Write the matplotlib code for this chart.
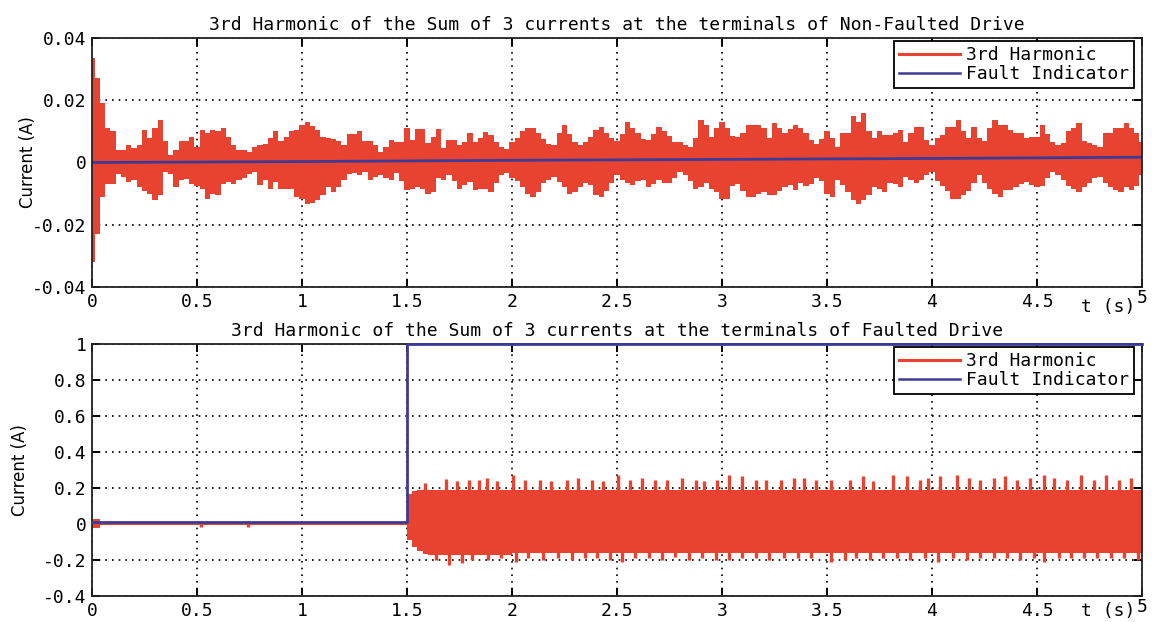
import numpy as np
import matplotlib
matplotlib.use("Agg")
import matplotlib.pyplot as plt
from matplotlib.lines import Line2D
from matplotlib.transforms import ScaledTranslation

plt.rcParams["font.family"] = ["DejaVu Sans Mono"]

RED = "#e84330"
BLUE = "#3e3a96"

# ---------------- Non-faulted drive ----------------
# envelope of the 3rd-harmonic band, one sample every 25 ms from 0 to 5 s (mA)
nf_t = np.round(np.arange(0, 5.0001, 0.025), 3)
nf_upper_mA = [
    33.6, 27, 19, 11, 10, 4, 4, 5.6, 4.5, 5.6,
    10.6, 8, 11, 13.7, 7, 2.4, 4, 7, 7, 8.3,
    5, 10.6, 9.5, 10.6, 10, 11, 8.3, 5.6, 4, 4,
    3.4, 5, 5.6, 6, 8, 10, 6.8, 8.3, 10, 10.6,
    12, 13, 11.6, 10.6, 8.3, 8, 7.5, 7, 5.6, 9,
    9, 10, 7, 7, 5.6, 3.5, 5, 7.3, 6.7, 6.7,
    11, 7.3, 10.7, 10.7, 6.2, 8.3, 10.7, 4.5, 7.3, 7.3,
    5.6, 6.7, 9.4, 6.7, 8, 9.9, 8.8, 6.7, 5, 4.2,
    6.5, 7.8, 10, 11, 11, 9.5, 7.5, 6, 5.5, 9.5,
    12, 9, 6.5, 5.6, 6.7, 8.3, 10.5, 11.5, 9.4, 7.8,
    7, 9, 13, 11, 9.4, 7.5, 7.3, 9, 11.5, 10,
    8.5, 6.7, 6.5, 5.5, 5, 8, 13.7, 12, 8.3, 11,
    13, 11, 8.5, 8.3, 9.5, 12, 12, 12, 11, 7.8,
    12.6, 11, 9.4, 10.7, 12, 11, 9.4, 7.3, 6, 7.5,
    10, 8, 5, 9.4, 9.4, 14.8, 13, 15.9, 10, 7.8,
    10, 8.9, 8.9, 9.5, 10.5, 6.7, 9.5, 11.5, 11.5, 7.3,
    5.6, 8, 8.9, 11.5, 11.5, 13.7, 10, 8, 11.5, 8,
    7, 11, 13.7, 12, 12, 10.5, 9.4, 9.4, 7.8, 8.3,
    8.3, 12, 9, 6.5, 5.6, 6.2, 10, 11, 12.6, 7,
    6.4, 5.5, 5, 9.4, 9.4, 11, 11, 12.6, 11, 9.4,
    6.5,
]
nf_lower_mA = [
    -32, -23, -11, -6.8, -6.8, -3.6, -4.6, -6.2, -5.7, -7.9,
    -9, -10, -12.2, -10.5, -3, -3.6, -7.9, -5.7, -5.2, -6.8,
    -7.5, -8.4, -11.6, -10, -10.5, -6.8, -6.2, -6.8, -5.7, -5,
    -3.6, -3, -7.3, -5.7, -8.4, -6.2, -8.4, -8.4, -8.4, -11,
    -11.6, -13.2, -13, -12.2, -10.5, -7.9, -9.5, -8, -5.7, -3.6,
    -3.5, -4, -3, -5.6, -4.5, -4, -5, -5.6, -3.5, -6,
    -8.9, -8.4, -7.8, -8.5, -10, -9.5, -5, -5.6, -4, -6,
    -8.4, -7.3, -6.2, -8.9, -8.6, -8.4, -9.5, -6.7, -4, -3.5,
    -5, -6, -8, -10, -11, -9.5, -6.5, -5.5, -4.5, -6.2,
    -7.8, -10, -9.5, -8, -6.7, -7.3, -10.5, -11, -9, -6.7,
    -4, -5.5, -6.7, -7.3, -6, -5.5, -7.8, -7, -5.6, -6.7,
    -6.5, -5, -3, -4, -6, -8.4, -7.8, -6.5, -8.5, -9.5,
    -11.6, -11.6, -7.5, -7, -9, -11, -11, -10, -9.4, -10.5,
    -10.5, -9, -8, -7.3, -8.9, -6.5, -7.5, -7, -5, -6,
    -10, -11, -5.6, -7.3, -9.4, -12, -13.2, -12, -10.5, -7.8,
    -8.4, -9.4, -6.5, -7, -7.8, -4.5, -5.5, -6.5, -5.5, -4,
    -3, -6, -7.5, -9, -11.6, -11.6, -10.5, -9, -6.5, -4,
    -6.5, -8.5, -10, -11, -8.9, -8.9, -8, -7, -6.2, -7.3,
    -7.8, -7.5, -5, -3, -4, -5.5, -7.5, -8.5, -9.4, -8,
    -6.5, -5, -4.5, -6.5, -8, -8.8, -9.4, -8, -8.9, -7.5,
    -4,
]
nf_fault_t = [0, 1, 2, 3, 4, 5]
nf_fault = [0.0, 0.0003, 0.0007, 0.001, 0.0013, 0.0017]

# ---------------- Faulted drive ----------------
# base envelope of the band (A), held constant after each breakpoint
f_band_t = [0.0, 0.04, 1.5, 1.525, 1.55, 1.575, 1.6, 2.0, 5.0]
f_band_up = [0.03, 0.006, 0.165, 0.185, 0.19, 0.19, 0.19, 0.19, 0.19]
f_band_low = [-0.022, -0.008, -0.09, -0.125, -0.15, -0.165, -0.17, -0.16, -0.16]

# individual peaks standing out of the band (A)
f_peak_up_t = [
    0.073, 0.16, 0.25, 0.384, 0.74, 0.94, 1.325,
    1.588, 1.684, 1.740, 1.796, 1.843, 1.882, 1.930, 2.005, 2.061, 2.132,
    2.188, 2.260, 2.316, 2.379, 2.435, 2.507, 2.563, 2.619, 2.682, 2.738,
    2.810, 2.874, 2.914, 2.977, 3.033, 3.097, 3.161, 3.209, 3.280, 3.344,
    3.392, 3.448, 3.520, 3.608, 3.671, 3.719, 3.815, 3.879, 3.943, 3.983,
    4.038, 4.118, 4.174, 4.230, 4.294, 4.349, 4.405, 4.469, 4.533, 4.580,
    4.644, 4.708, 4.772, 4.828, 4.892, 4.947,
]
f_peak_up = [
    0.015, 0.012, 0.012, 0.013, 0.016, 0.013, 0.013,
    0.227, 0.250, 0.238, 0.247, 0.247, 0.256, 0.238, 0.272, 0.247, 0.247,
    0.238, 0.247, 0.256, 0.247, 0.238, 0.272, 0.247, 0.256, 0.247, 0.247,
    0.256, 0.247, 0.238, 0.247, 0.272, 0.264, 0.247, 0.247, 0.247, 0.256,
    0.256, 0.247, 0.247, 0.247, 0.264, 0.238, 0.272, 0.264, 0.247, 0.256,
    0.264, 0.272, 0.256, 0.247, 0.256, 0.264, 0.247, 0.256, 0.272, 0.256,
    0.247, 0.272, 0.247, 0.272, 0.247, 0.256,
]
f_peak_low_t = [
    0.52, 0.745,
    1.64, 1.70, 1.76, 1.81, 1.885, 1.949, 2.021, 2.077, 2.148, 2.220,
    2.284, 2.347, 2.403, 2.467, 2.523, 2.587, 2.651, 2.714, 2.778, 2.842,
    2.906, 2.970, 3.033, 3.097, 3.161, 3.225, 3.297, 3.360, 3.424, 3.520,
    3.584, 3.640, 3.703, 3.767, 3.831, 3.895, 3.967, 4.030, 4.102, 4.166,
    4.230, 4.294, 4.357, 4.421, 4.485, 4.533, 4.605, 4.660, 4.724, 4.788,
    4.852, 4.915, 4.979,
]
f_peak_low = [
    -0.015, -0.014,
    -0.200, -0.225, -0.215, -0.200, -0.200, -0.190, -0.209, -0.190, -0.200, -0.190,
    -0.200, -0.190, -0.190, -0.200, -0.209, -0.190, -0.190, -0.200, -0.181, -0.200,
    -0.190, -0.200, -0.200, -0.190, -0.190, -0.200, -0.190, -0.190, -0.190, -0.209,
    -0.200, -0.190, -0.200, -0.190, -0.190, -0.200, -0.190, -0.209, -0.190, -0.200,
    -0.190, -0.190, -0.190, -0.200, -0.190, -0.209, -0.190, -0.190, -0.190, -0.190,
    -0.190, -0.190, -0.200,
]
f_fault_t = [0.0, 1.5, 5.0]
f_fault = [0.01, 1.0, 1.0]

x_ticks = [0, 0.5, 1, 1.5, 2, 2.5, 3, 3.5, 4, 4.5, 5]
x_labels = ["0", "0.5", "1", "1.5", "2", "2.5", "3", "3.5", "4", "4.5", "5"]
top_yticks = [-0.04, -0.02, 0, 0.02, 0.04]
top_ylabels = ["-0.04", "-0.02", "0", "0.02", "0.04"]
bot_yticks = [-0.4, -0.2, 0, 0.2, 0.4, 0.6, 0.8, 1.0]
bot_ylabels = ["-0.4", "-0.2", "0", "0.2", "0.4", "0.6", "0.8", "1"]

fig = plt.figure(figsize=(11.55, 6.22), dpi=100)
fig.patch.set_facecolor("white")
ax1 = fig.add_axes([0.07965, 0.53859, 0.90909, 0.40032])
ax2 = fig.add_axes([0.07965, 0.04180, 0.90909, 0.40514])


def style_axes(ax, yticks, ylabels, title, ylabel_x, unit_dy):
    ax.set_xlim(0, 5)
    ax.set_ylim(yticks[0], yticks[-1])
    ax.set_xticks(x_ticks)
    ax.set_xticklabels(x_labels)
    ax.set_yticks(yticks)
    ax.set_yticklabels(ylabels)
    ax.grid(True, color="black", linestyle=(0, (1, 3)), linewidth=1.2)
    ax.set_axisbelow(True)
    ax.tick_params(direction="in", length=6, width=1.4, top=True, right=True,
                   labelsize=13, pad=4, colors="black")
    for s in ax.spines.values():
        s.set_linewidth(1.3)
        s.set_color("#222222")
        s.set_zorder(5)
    ax.set_title(title, fontsize=13, pad=6)
    ax.set_ylabel("Current (A)", fontsize=12, family=["DejaVu Sans"])
    ax.yaxis.set_label_coords(ylabel_x, 0.5)
    # last tick label sits slightly higher, with the time unit beside it
    lbl = ax.get_xticklabels()[-1]
    lbl.set_transform(lbl.get_transform() + ScaledTranslation(0, 2.5 / 72, fig.dpi_scale_trans))
    ax.annotate("t (s)", xy=(1, 0), xycoords="axes fraction", xytext=(-24, unit_dy),
                textcoords="offset points", ha="center", va="center", fontsize=13)
    handles = [Line2D([], [], color=RED, lw=2.2), Line2D([], [], color=BLUE, lw=1.8)]
    leg = ax.legend(handles, ["3rd Harmonic", "Fault Indicator"], loc="upper right",
                    bbox_to_anchor=(0.9924, 0.988), borderaxespad=0, fontsize=13,
                    handlelength=3.4, handletextpad=0.3, borderpad=0.28,
                    labelspacing=0.05, fancybox=False, framealpha=1, edgecolor="black")
    leg.get_frame().set_linewidth(1.3)
    leg.set_zorder(10)


# top panel
ax1.fill_between(nf_t, np.array(nf_lower_mA) / 1000, np.array(nf_upper_mA) / 1000,
                 step="mid", color=RED, linewidth=0, zorder=2)
ax1.plot(nf_fault_t, nf_fault, color=BLUE, lw=2.0, zorder=3)
style_axes(ax1, top_yticks, top_ylabels,
           "3rd Harmonic of the Sum of 3 currents at the terminals of Non-Faulted Drive",
           -0.0524, -14.5)

# bottom panel
ax2.fill_between(f_band_t, f_band_low, f_band_up, step="post", color=RED, linewidth=0, zorder=2)
ax2.vlines(f_peak_up_t, 0, f_peak_up, color=RED, lw=2.4, zorder=2)
ax2.vlines(f_peak_low_t, f_peak_low, 0, color=RED, lw=2.4, zorder=2)
ax2.plot(f_fault_t, f_fault, color=BLUE, lw=2.0, drawstyle="steps-post", zorder=6, clip_on=False)
style_axes(ax2, bot_yticks, bot_ylabels,
           "3rd Harmonic of the Sum of 3 currents at the terminals of Faulted Drive",
           -0.06, -10.5)

fig.savefig("out.png", dpi=100)
